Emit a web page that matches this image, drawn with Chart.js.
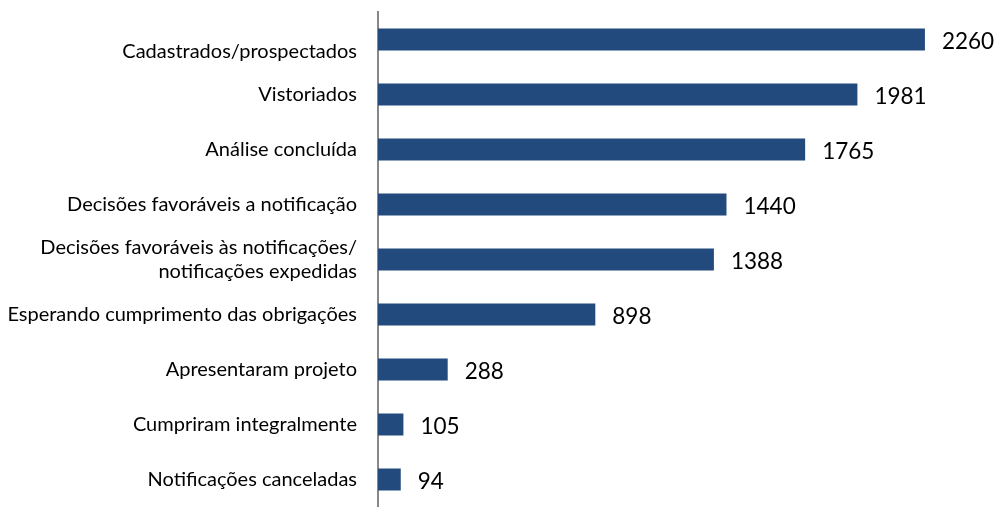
<!DOCTYPE html>
<html>
<head>
<meta charset="utf-8">
<script src="https://cdn.jsdelivr.net/npm/chart.js@4.4.1/dist/chart.umd.min.js"></script>
<style>
  html, body { margin: 0; padding: 0; background: #fff; overflow: hidden; }
  #wrap { width: 999px; height: 507px; position: relative; }
</style>
</head>
<body>
<div id="wrap"><canvas id="chart"></canvas></div>
<script>
// first label sits one line lower than its bar in the original
const categories = [
    ['', 'Cadastrados/prospectados'],
    'Vistoriados',
    'Análise concluída',
    'Decisões favoráveis a notificação',
    ['Decisões favoráveis às notificações/', 'notificações expedidas'],
    'Esperando cumprimento das obrigações',
    'Apresentaram projeto',
    'Cumpriram integralmente',
    'Notificações canceladas',
];
const values = [2260, 1981, 1765, 1440, 1388, 898, 288, 105, 94];

const barColor = '#224A7C';

// draws the number just past the end of each bar
const valueLabels = {
    id: 'valueLabels',
    afterDatasetsDraw(chart) {
        const ctx = chart.ctx;
        const meta = chart.getDatasetMeta(0);
        ctx.save();
        ctx.font = '22.5px Lato';
        ctx.fillStyle = '#000';
        ctx.textAlign = 'left';
        ctx.textBaseline = 'middle';
        meta.data.forEach((bar, i) => {
            ctx.fillText(String(values[i]), bar.x + 17, bar.y + 2);
        });
        ctx.restore();
    }
};

new Chart(document.getElementById('chart'), {
    type: 'bar',
    data: {
        labels: categories,
        datasets: [{
            data: values,
            backgroundColor: barColor,
            borderWidth: 0,
            barPercentage: 0.5,
            categoryPercentage: 0.8,
        }]
    },
    plugins: [valueLabels],
    options: {
        indexAxis: 'y',
        responsive: true,
        maintainAspectRatio: false,
        animation: false,
        layout: { padding: { top: 12, right: 16, bottom: -5, left: 0 } },
        plugins: {
            legend: { display: false },
            tooltip: { enabled: false }
        },
        scales: {
            x: {
                display: false,
                min: 0,
                max: 2500,
            },
            y: {
                grid: { display: false, drawTicks: false },
                border: { display: true, color: '#888888', width: 2 },
                afterFit(scale) {
                    scale.width = 378;
                    scale.paddingTop = 0;
                    scale.paddingBottom = 0;
                },
                ticks: {
                    padding: 21,
                    color: '#000',
                    font: { family: 'Lato', size: 20, lineHeight: 1.2 }
                }
            }
        }
    }
});
</script>
</body>
</html>
